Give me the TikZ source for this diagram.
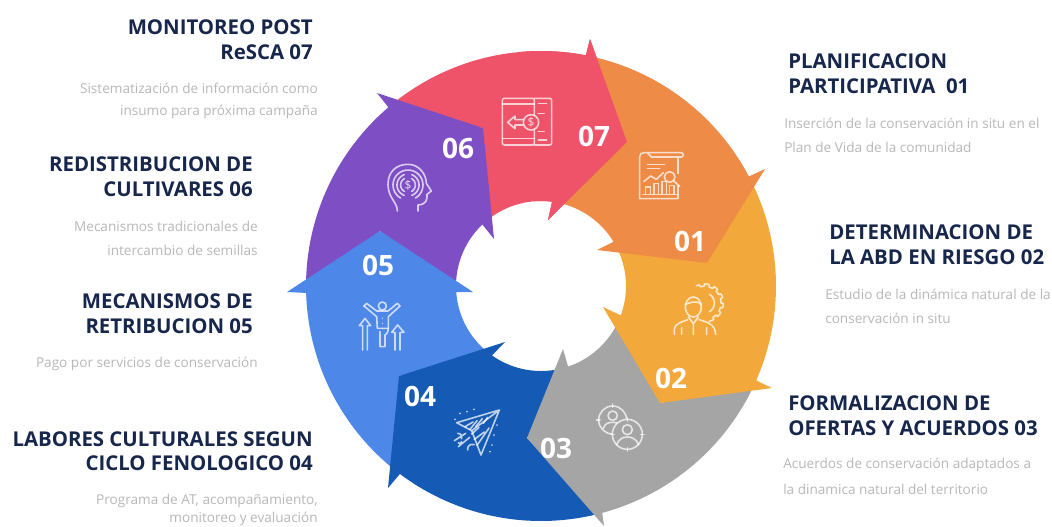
\documentclass[tikz,border=0pt]{standalone}
\usepackage{fontspec}
\setmainfont{Open Sans}
\definecolor{cA}{HTML}{EE8B47}
\definecolor{cB}{HTML}{F3A83C}
\definecolor{cC}{HTML}{A5A5A5}
\definecolor{cD}{HTML}{155AB5}
\definecolor{cE}{HTML}{4D87E8}
\definecolor{cF}{HTML}{7E4FC4}
\definecolor{cG}{HTML}{EE5369}
\definecolor{navy}{HTML}{17264B}
\definecolor{soft}{HTML}{B8B8B8}
\newcommand{\seg}[9]{% colour, outer a1, outer a2, barb1, tip, barb2, inner a1, inner a2, notch
  \fill[#1] plot[domain=#2:#3,samples=40] ({541+235*cos(\x)},{286+235*sin(\x)})
    -- #4 -- #5 -- #6
    -- plot[domain=#7:#8,samples=30] ({541+85*cos(\x)},{286+85*sin(\x)})
    -- #9 -- cycle;}
\newcommand{\arcp}[5]{\draw[ico] plot[domain=#4:#5,samples=30] ({#1+#3*cos(\x)},{#2+#3*sin(\x)});}
\tikzset{
  ttl/.style={font=\fontsize{15.3}{15}\selectfont\bfseries,text=navy,inner sep=0pt},
  sub/.style={font=\fontsize{10.2}{10}\selectfont,text=soft,inner sep=0pt},
  num/.style={font=\fontsize{21}{21}\selectfont\bfseries,text=white,inner sep=0pt},
  ico/.style={draw=white,draw opacity=.72,line width=1.2pt,fill=none,line cap=round,line join=round},
  icotxt/.style={font=\fontsize{9}{9}\selectfont,text=white,text opacity=.8,inner sep=0pt},
  zoomed/.style={x=.25pt,y=-.25pt}
}
\begin{document}
\begin{tikzpicture}[x=.75pt,y=-.75pt]
\useasboundingbox (0,0) rectangle (1052,526);
\clip (0,0) rectangle (1052,526);
\fill[white] (0,0) rectangle (1052,526);
% pieces, each tail tucked under the head of the piece before it
\seg{cG}{229.5}{281}{(590,39)}{(627,142)}{(548,220)}{277.5}{226.4}{(483,128)}
\seg{cF}{178.3}{229.5}{(377,93)}{(483,128)}{(494,239)}{226.4}{175.9}{(380,231)}
\seg{cE}{126.9}{178.3}{(287,292)}{(380,231)}{(473,292)}{175.9}{125.2}{(399,376)}
\seg{cD}{74.9}{126.9}{(388,488)}{(399,376)}{(505,342)}{125.2}{71.4}{(527,438)}
\seg{cC}{23.7}{74.9}{(604,526)}{(527,438)}{(563,349)}{71.4}{20.2}{(660,403)}
\seg{cB}{-27.8}{23.7}{(772,388)}{(660,403)}{(603,307)}{20.2}{-31.4}{(707,263)}
\seg{cA}{-79}{-27.8}{(765,169)}{(707,263)}{(597,250)}{-31.4}{-82.5}{(627,142)}
\seg{cG}{265}{281}{(590,39)}{(627,142)}{(548,220)}{277.5}{265}{(527,122)}
% icon 07
\begin{scope}[shift={(495,90)},zoomed]
\draw[ico,rounded corners=1.5pt] (118,76) -- (118,25) -- (22,25) -- (22,165) -- (118,165) -- (118,119);
\draw[ico,rounded corners=1.5pt] (118,25) -- (170,25) -- (170,165) -- (118,165);
\draw[ico] (22,42) -- (118,42) (22,145) -- (118,145) (130,40) -- (155,40) (130,150) -- (155,150) (130,70) -- (148,70) (130,125) -- (148,125);
\draw[ico] (108,97) circle[radius=23];
\draw[ico] (85,89) -- (60,89) -- (60,78) -- (38,97) -- (60,116) -- (60,105) -- (85,105);
\node[icotxt] (d7) at (108,97) {\$};
\end{scope}
% icon 01
\begin{scope}[shift={(628,142)},zoomed]
\draw[ico] (150,95) -- (150,45) (150,130) -- (150,170) -- (35,170) -- (35,45) .. controls (35,36) and (40,32) .. (48,32) -- (160,32) .. controls (167,32) and (168,45) .. (160,45) -- (70,45) .. controls (66,40) and (64,36) .. (58,32);
\draw[ico] (58,68) -- (110,68) (58,80) -- (95,80);
\draw[ico] (48,118) -- (68,102) -- (85,112) -- (106,92);
\draw[ico] (125,105) circle[radius=16];
\draw[ico] (137,117) -- (155,133);
\draw[ico] (52,155) -- (52,135) -- (68,135) -- (68,155) (78,155) -- (78,125) -- (92,125) -- (92,155) (102,155) -- (102,118) -- (116,118) -- (116,155) (125,155) -- (125,130) -- (138,130) -- (138,155) (45,158) -- (145,158);
\end{scope}
% icon 02
\begin{scope}[shift={(665,277)},zoomed]
\draw[ico] plot[domain=-115:75,samples=120] ({118+(50+7*(sin(12*\x)>0))*cos(\x)},{78+(50+7*(sin(12*\x)>0))*sin(\x)});
\arcp{118}{78}{30}{-60}{60}
\draw[ico] (85,90) ellipse[x radius=24,y radius=30];
\draw[ico] (61,82) .. controls (72,78) and (95,68) .. (109,82);
\draw[ico] (70,120) -- (85,140) -- (100,120) (85,140) -- (85,172) (50,152) -- (50,172) (125,152) -- (125,172);
\draw[ico] (28,172) -- (28,155) .. controls (30,140) and (50,135) .. (68,128);
\draw[ico] (102,128) .. controls (125,135) and (150,140) .. (152,172);
\end{scope}
% icon 03
\begin{scope}[shift={(590,395)},zoomed]
\draw[ico] (68,75) circle[radius=42];
\draw[ico] (68,62) circle[radius=14];
\draw[ico] (40,100) .. controls (45,85) and (55,82) .. (68,82) .. controls (80,82) and (90,85) .. (96,98);
\draw[ico] (68,27) -- (68,37) (20,75) -- (30,75);
\fill[cC] (112,118) circle[radius=46];
\draw[ico] (112,118) circle[radius=45];
\draw[ico] (112,104) circle[radius=15];
\draw[ico] (80,150) .. controls (85,132) and (98,126) .. (112,126) .. controls (126,126) and (140,132) .. (146,150);
\draw[ico] (112,68) -- (112,78) (112,158) -- (112,168) (62,118) -- (72,118) (152,118) -- (162,118);
\end{scope}
% icon 04
\begin{scope}[shift={(445,400)},zoomed]
\draw[ico] (163,30) -- (35,68) -- (80,92) -- (108,165) -- cycle (80,92) -- (163,30);
\draw[ico] (60,80) -- (84,66) (75,88) -- (96,62) (92,80) -- (112,56) (80,102) -- (102,82) (88,118) -- (118,96) (96,136) -- (132,84) (115,70) -- (128,52);
\draw[ico] (38,100) .. controls (48,100) and (52,108) .. (50,116) (28,122) -- (62,100) (40,140) -- (74,112) (68,150) .. controls (66,138) and (76,130) .. (88,134) (50,125) .. controls (44,130) and (44,135) .. (40,128);
\draw[ico,line width=1.4pt] (45,40) -- (45,40.1) (65,35) -- (65,35.1) (88,28) -- (88,28.1) (30,58) -- (30,58.1) (155,75) -- (155,75.1) (148,105) -- (148,105.1) (140,135) -- (140,135.1) (135,155) -- (135,155.1);
\end{scope}
% icon 05
\begin{scope}[shift={(350,295)},zoomed]
\draw[ico] (97,33) circle[radius=12];
\draw[ico] (42,33) -- (50,25) -- (80,48) -- (114,48) -- (142,25) -- (150,33) -- (115,65) -- (115,100) .. controls (115,115) and (105,120) .. (105,120) -- (105,155) -- (90,155) -- (90,110);
\draw[ico] (42,33) -- (80,65) -- (82,100) -- (115,100);
\draw[ico] (97,70) -- (97,70.1) (97,85) -- (97,85.1);
\draw[ico] (38,165) -- (38,92) -- (28,92) -- (45,70) -- (62,92) -- (52,92) -- (52,165);
\draw[ico] (135,165) -- (135,112) -- (125,112) -- (143,90) -- (162,112) -- (150,112) -- (150,165);
\end{scope}
% icon 06
\begin{scope}[shift={(378,155)},zoomed]
\draw[ico] (58,168) .. controls (58,140) and (30,130) .. (30,88) .. controls (30,50) and (55,28) .. (90,28) .. controls (125,28) and (145,60) .. (145,85) -- (160,108) -- (147,118) .. controls (148,135) and (145,148) .. (120,150) -- (120,168);
\arcp{90}{90}{45}{-240}{60}
\arcp{90}{90}{33}{110}{250}
\arcp{90}{90}{33}{-70}{70}
\arcp{90}{90}{22}{120}{240}
\arcp{90}{90}{22}{-60}{60}
\node[icotxt] (d6) at (90,90) {\$};
\end{scope}
\node[num] (n1) at (690,241) {01};
\node[num] (n2) at (671,378) {02};
\node[num] (n3) at (556,448) {03};
\node[num] (n4) at (420,396) {04};
\node[num] (n5) at (378,265) {05};
\node[num] (n6) at (458,148) {06};
\node[num] (n7) at (594,136) {07};
\node[ttl,anchor=east] (t7a) at (313,27) {MONITOREO POST};
\node[ttl,anchor=east] (t7b) at (313,52) {ReSCA 07};
\node[sub,anchor=east] (s7a) at (318,88) {Sistematización de información como};
\node[sub,anchor=east] (s7b) at (318,112) {insumo para próxima campaña};
\node[ttl,anchor=east] (t6a) at (253,164) {REDISTRIBUCION DE};
\node[ttl,anchor=east] (t6b) at (253,189) {CULTIVARES 06};
\node[sub,anchor=east] (s6a) at (258,226) {Mecanismos tradicionales de};
\node[sub,anchor=east] (s6b) at (258,250) {intercambio de semillas};
\node[ttl,anchor=east] (t5a) at (253,301) {MECANISMOS DE};
\node[ttl,anchor=east] (t5b) at (253,326) {RETRIBUCION 05};
\node[sub,anchor=east] (s5a) at (258,364) {Pago por servicios de conservación};
\node[ttl,anchor=east] (t4a) at (313,439) {LABORES CULTURALES SEGUN};
\node[ttl,anchor=east] (t4b) at (313,463) {CICLO FENOLOGICO 04};
\node[sub,anchor=east] (s4a) at (318,501) {Programa de AT, acompañamiento,};
\node[sub,anchor=east] (s4b) at (318,519) {monitoreo y evaluación};
\node[ttl,anchor=west] (t1a) at (788,61) {PLANIFICACION};
\node[ttl,anchor=west] (t1b) at (788,86) {PARTICIPATIVA\ \ 01};
\node[sub,anchor=west] (s1a) at (784,123) {Inserción de la conservación in situ en el};
\node[sub,anchor=west] (s1b) at (784,147) {Plan de Vida de la comunidad};
\node[ttl,anchor=west] (t2a) at (829,232) {DETERMINACION DE};
\node[ttl,anchor=west] (t2b) at (829,257) {LA ABD EN RIESGO 02};
\node[sub,anchor=west] (s2a) at (825,294) {Estudio de la dinámica natural de la};
\node[sub,anchor=west] (s2b) at (825,318) {conservación in situ};
\node[ttl,anchor=west] (t3a) at (788,403) {FORMALIZACION DE};
\node[ttl,anchor=west] (t3b) at (788,428) {OFERTAS Y ACUERDOS 03};
\node[sub,anchor=west] (s3a) at (783,465) {Acuerdos de conservación adaptados a};
\node[sub,anchor=west] (s3b) at (783,489) {la dinamica natural del territorio};
\end{tikzpicture}
\end{document}
